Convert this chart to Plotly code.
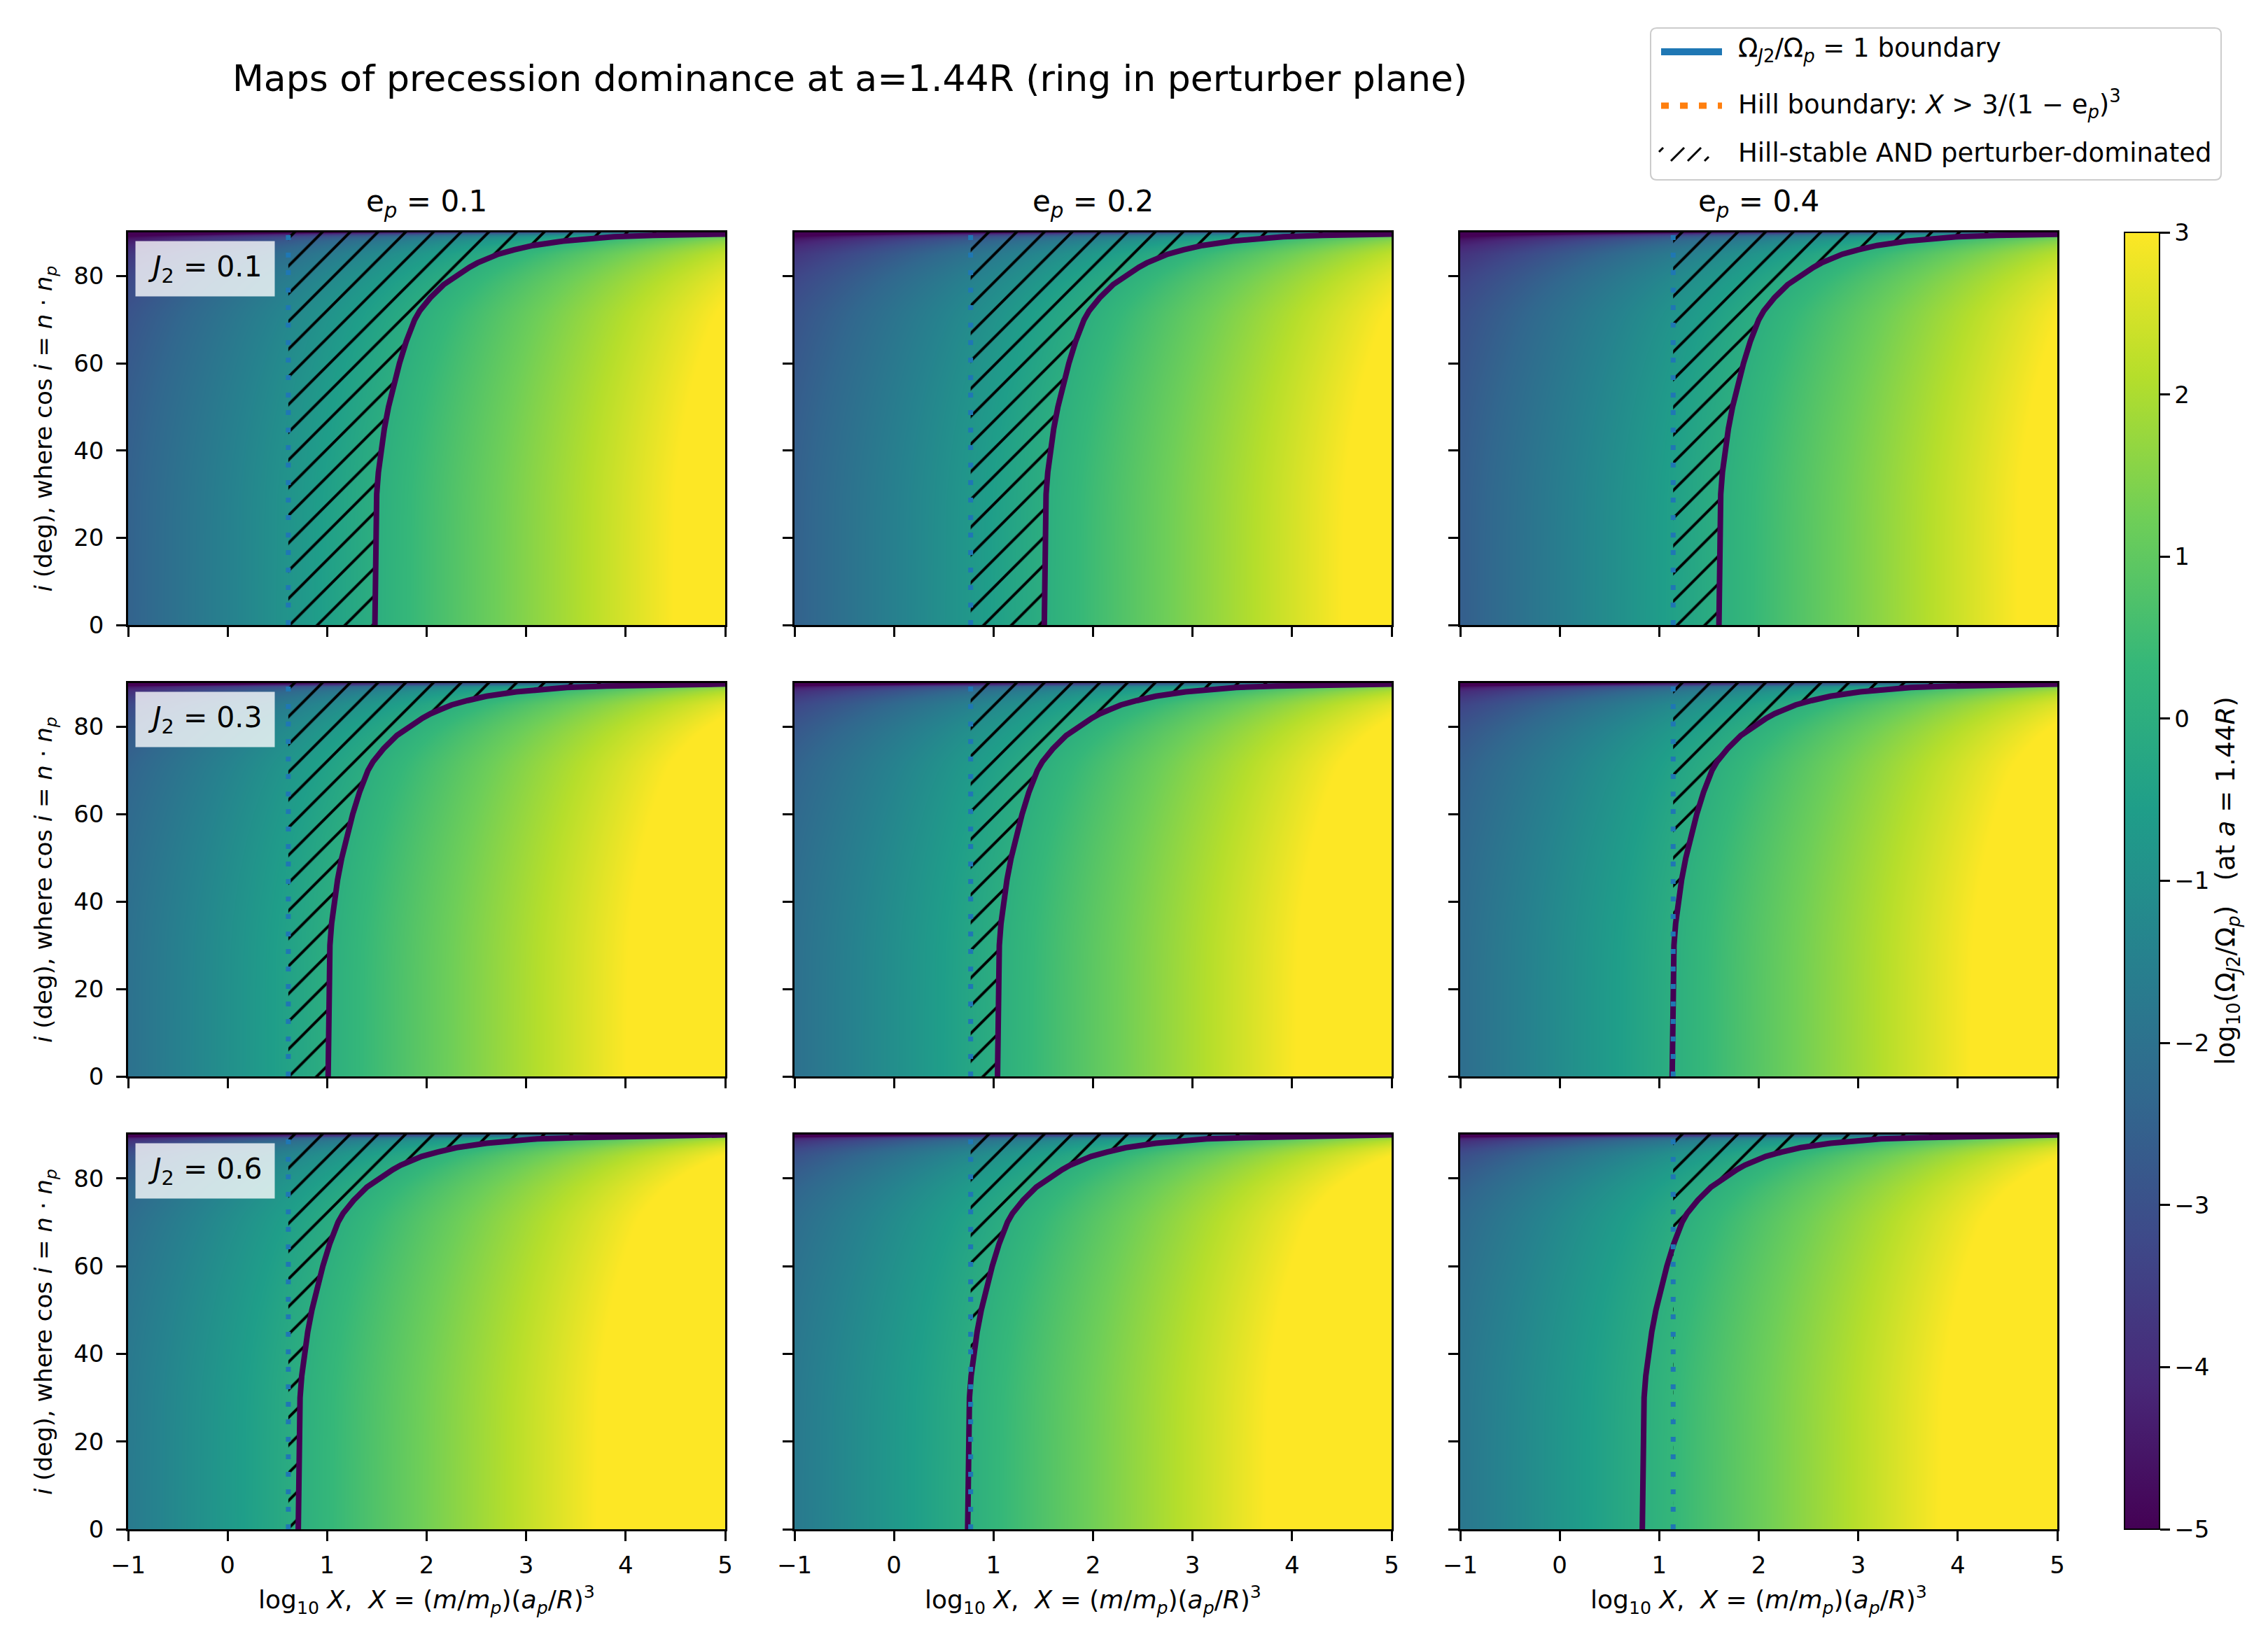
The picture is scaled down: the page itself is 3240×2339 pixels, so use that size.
import plotly.graph_objects as go

# panel parameters
ep_vals = [0.1, 0.2, 0.4]          # columns
j2_vals = [0.1, 0.3, 0.6]          # rows

# log10 X of the Hill boundary (dotted line), one per e_p column
hill_logx = [0.61, 0.77, 1.14]

# log10 X where Omega_J2/Omega_p = 1 at i = 0, read per (J2 row, e_p column)
cross_logx = [
    [1.48, 1.51, 1.60],
    [1.01, 1.04, 1.13],
    [0.71, 0.74, 0.83],
]

# inclination rows and how far the ratio = 1 boundary sits to the right (in log10 X)
incl_deg = [0, 10, 20, 25, 30, 35, 40, 45, 50, 55, 60, 65, 70, 72, 75, 78, 80, 82, 83, 85,
            86, 87, 88, 88.5, 89, 89.3, 89.6, 90]
boundary_shift = [0.0, 0.003, 0.007, 0.011, 0.018, 0.035, 0.062, 0.095, 0.137, 0.185, 0.247,
                  0.315, 0.40, 0.45, 0.557, 0.69, 0.81, 0.95, 1.03, 1.24, 1.40, 1.59, 1.89,
                  2.1, 2.4, 2.8, 3.4, 4.5]

x_edges = [-1, 5]

W, H = 3240, 2339
FONT = "DejaVu Sans"

col_px = [(175, 1028), (1127, 1980), (2078, 2931)]
row_px = [(324, 885), (968, 1530), (1613, 2177)]


def px(x):
    return x / W


def py(y):
    return 1 - y / H


fig = go.Figure()
layout_axes = {}

for r in range(3):
    for c in range(3):
        n = r * 3 + c + 1
        xa = "x" if n == 1 else "x%d" % n
        ya = "y" if n == 1 else "y%d" % n
        cross = cross_logx[r][c]
        hill = hill_logx[c]

        # colour value log10(Omega_J2/Omega_p) at the left and right edges
        z = [[xe - cross - s for xe in x_edges] for s in boundary_shift]
        fig.add_trace(go.Heatmap(
            x=x_edges, y=incl_deg, z=z, zmin=-5, zmax=3, zsmooth="best",
            colorscale="Viridis", showscale=(n == 1), xaxis=xa, yaxis=ya,
            hoverinfo="skip",
            colorbar=dict(
                x=px(3027), xanchor="left", xpad=0, thickness=50,
                y=py(2177), yanchor="bottom", ypad=0, len=(2177 - 324) / H,
                outlinewidth=2, outlinecolor="black",
                ticks="outside", ticklen=14, tickwidth=2.5, tickcolor="black",
                tickvals=[-5, -4, -3, -2, -1, 0, 1, 2, 3],
                tickfont=dict(size=34, family=FONT, color="black"),
                title=dict(text="log<sub>10</sub>(Ω<sub><i>J</i>2</sub>/Ω<sub><i>p</i></sub>)   (at <i>a</i> = 1.44<i>R</i>)",
                           side="right", font=dict(size=37, family=FONT, color="black")),
            ),
        ))

        bx = [cross + s for s in boundary_shift]

        # hatched region: Hill-stable and ratio < 1
        hx = [hill] + [max(hill, v) for v in bx] + [hill]
        hy = [0] + incl_deg + [90]
        fig.add_trace(go.Scatter(
            x=hx, y=hy, mode="lines", fill="toself", xaxis=xa, yaxis=ya,
            line=dict(width=0, color="rgba(0,0,0,0)"),
            fillcolor="rgba(0,0,0,0)",
            fillpattern=dict(shape="/", fgcolor="black", bgcolor="rgba(0,0,0,0)",
                             size=28, solidity=0.14, fillmode="replace"),
            showlegend=False, hoverinfo="skip",
        ))

        fig.add_trace(go.Scatter(
            x=bx, y=incl_deg, mode="lines", xaxis=xa, yaxis=ya,
            line=dict(color="#440154", width=8),
            showlegend=False, hoverinfo="skip",
        ))

        fig.add_trace(go.Scatter(
            x=[hill, hill], y=[0, 90], mode="lines", xaxis=xa, yaxis=ya,
            line=dict(color="#1f77b4", width=7, dash="7px,18px"),
            showlegend=False, hoverinfo="skip",
        ))

        common = dict(showline=True, mirror=True, linecolor="black", linewidth=2.5,
                      ticks="outside", ticklen=14, tickwidth=2.5, tickcolor="black",
                      showgrid=False, zeroline=False, automargin=False,
                      tickfont=dict(size=34, family=FONT, color="black"))
        x0, x1 = col_px[c]
        y0, y1 = row_px[r]
        xkey = "xaxis" if n == 1 else "xaxis%d" % n
        ykey = "yaxis" if n == 1 else "yaxis%d" % n
        layout_axes[xkey] = dict(
            common, domain=[px(x0), px(x1)], range=[-1, 5], tickvals=[-1, 0, 1, 2, 3, 4, 5],
            anchor=ya, showticklabels=(r == 2), ticklabelstandoff=5,
        )
        layout_axes[ykey] = dict(
            common, domain=[py(y1), py(y0)], range=[0, 90], tickvals=[0, 20, 40, 60, 80],
            anchor=xa, showticklabels=(c == 0), ticklabelstandoff=11,
        )

annotations = []
shapes = []
for c, ep in enumerate(ep_vals):
    x0, x1 = col_px[c]
    annotations.append(dict(
        text="e<sub><i>p</i></sub> = %g" % ep, xref="paper", yref="paper",
        x=px((x0 + x1) / 2), y=py(282), xanchor="center", yanchor="middle",
        showarrow=False, font=dict(size=42, family=FONT, color="black"),
    ))
    annotations.append(dict(
        text="log<sub>10</sub> <i>X</i>,  <i>X</i> = (<i>m</i>/<i>m</i><sub><i>p</i></sub>)(<i>a</i><sub><i>p</i></sub>/<i>R</i>)<sup>3</sup>",
        xref="paper", yref="paper", x=px((x0 + x1) / 2), y=py(2278),
        xanchor="center", yanchor="middle", showarrow=False,
        font=dict(size=36, family=FONT, color="black"),
    ))
for r, j2 in enumerate(j2_vals):
    n = r * 3 + 1
    xa = "x" if n == 1 else "x%d" % n
    ya = "y" if n == 1 else "y%d" % n
    annotations.append(dict(
        text="<i>J</i><sub>2</sub> = %g" % j2, xref=xa + " domain", yref=ya + " domain",
        x=0.012, y=0.979, xanchor="left", yanchor="top", showarrow=False,
        bgcolor="rgba(255,255,255,0.78)", borderpad=12, width=174,
        font=dict(size=41, family=FONT, color="black"),
    ))
    y0, y1 = row_px[r]
    annotations.append(dict(
        text="<i>i</i> (deg), where cos <i>i</i> = <i>n</i> · <i>n</i><sub><i>p</i></sub>",
        xref="paper", yref="paper", x=px(56), y=py((y0 + y1) / 2), textangle=-90,
        xanchor="center", yanchor="middle", showarrow=False,
        font=dict(size=34, family=FONT, color="black"),
    ))
annotations.append(dict(
    text="Maps of precession dominance at a=1.44R (ring in perturber plane)",
    xref="paper", yref="paper", x=px(1206), y=py(104), xanchor="center", yanchor="middle",
    showarrow=False, font=dict(size=52, family=FONT, color="black"),
))

# legend box (rounded) and entries
lx0, lx1, ly0, ly1, rad = 2350, 3165, 32, 249, 9
shapes.append(dict(
    type="path", xref="paper", yref="paper", line=dict(color="#cccccc", width=2), fillcolor="white",
    path=("M %f,%f L %f,%f Q %f,%f %f,%f L %f,%f Q %f,%f %f,%f L %f,%f Q %f,%f %f,%f L %f,%f Q %f,%f %f,%f Z" % (
        px(lx0 + rad), py(ly0), px(lx1 - rad), py(ly0), px(lx1), py(ly0), px(lx1), py(ly0 + rad),
        px(lx1), py(ly1 - rad), px(lx1), py(ly1), px(lx1 - rad), py(ly1),
        px(lx0 + rad), py(ly1), px(lx0), py(ly1), px(lx0), py(ly1 - rad),
        px(lx0), py(ly0 + rad), px(lx0), py(ly0), px(lx0 + rad), py(ly0))),
))
shapes.append(dict(type="line", xref="paper", yref="paper", x0=px(2365), x1=px(2452), y0=py(66), y1=py(66),
                   line=dict(color="#1f77b4", width=10)))
shapes.append(dict(type="line", xref="paper", yref="paper", x0=px(2365), x1=px(2452), y0=py(143), y1=py(143),
                   line=dict(color="#ff7f0e", width=9, dash="11px,16px")))
for sx0, sy0, sx1, sy1 in [(2362, 209, 2368, 203), (2379, 222, 2398, 203), (2403, 222, 2422, 203), (2427, 222, 2433, 216)]:
    shapes.append(dict(type="line", xref="paper", yref="paper", x0=px(sx0), x1=px(sx1), y0=py(sy0), y1=py(sy1),
                       line=dict(color="black", width=3)))
legend_texts = [
    ("Ω<sub><i>J</i>2</sub>/Ω<sub><i>p</i></sub> = 1 boundary", 63),
    ("Hill boundary: <i>X</i> > 3/(1 − e<sub><i>p</i></sub>)<sup>3</sup>", 140),
    ("Hill-stable AND perturber-dominated", 210),
]
for txt, yy in legend_texts:
    annotations.append(dict(
        text=txt, xref="paper", yref="paper", x=px(2473), y=py(yy), xanchor="left", yanchor="middle",
        showarrow=False, font=dict(size=37, family=FONT, color="black"),
    ))

fig.update_layout(
    width=W, height=H, margin=dict(l=0, r=0, t=0, b=0, autoexpand=False),
    paper_bgcolor="white", plot_bgcolor="white",
    font=dict(family=FONT, size=34, color="black"),
    annotations=annotations, shapes=shapes,
    showlegend=False,
    **layout_axes,
)

fig.write_html("out.html")
